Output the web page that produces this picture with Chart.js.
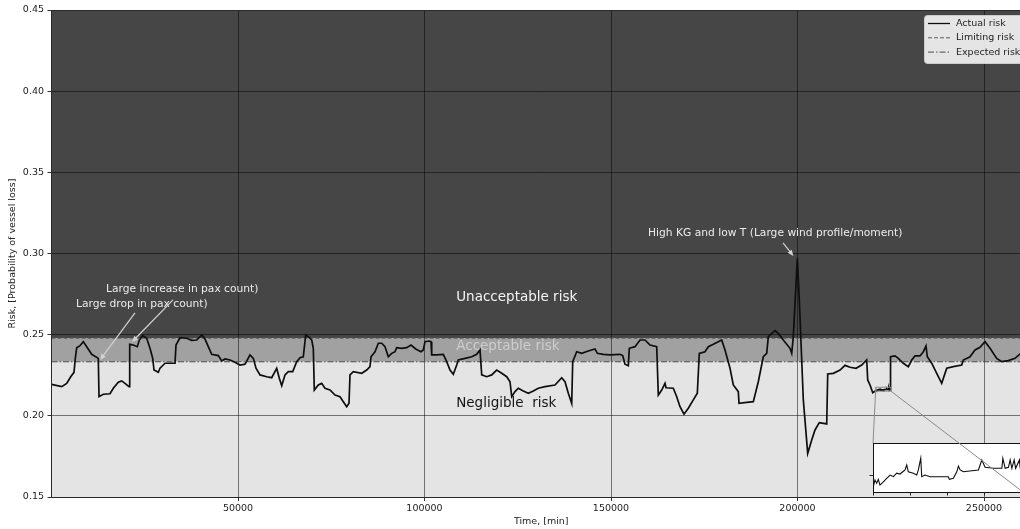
<!DOCTYPE html>
<html>
<head>
<meta charset="utf-8">
<title>Vessel risk over time</title>
<script src="https://cdn.jsdelivr.net/npm/chart.js@4/dist/chart.umd.min.js"></script>
<style>
  html, body { margin: 0; padding: 0; background: #ffffff; overflow: hidden; }
  #wrap { position: relative; width: 1020px; height: 529px; overflow: hidden; }
  #wrap canvas { position: absolute; left: 0; top: 0; }
</style>
</head>
<body>
<div id="wrap">
  <canvas id="mainChart" width="1040" height="529"></canvas>
  <canvas id="zoomChart" width="1040" height="529"></canvas>
</div>
<script>
// ---- data -------------------------------------------------------------
// elapsed time [min]
const timeMin = [
  0, 2735, 4075, 5148, 6032, 6381, 6756, 7641, 8526, 9437,
  10778, 12547, 12735, 13888, 15684, 16569, 17909, 18821, 19705, 20778,
  20965, 21931, 23003, 23539, 24451, 25523, 26408, 27132, 27480, 28633,
  29089, 30429, 33110, 33378, 34451, 36247, 37588, 38928, 40269, 41153,
  42038, 42950, 44719, 45631, 46515, 47856, 49196, 50537, 51877, 53218,
  54103, 54826, 55899, 57695, 59036, 60376, 61073, 61717, 62601, 63486,
  64666, 65738, 66623, 67508, 68151, 68848, 69760, 70189, 70457, 71529,
  72441, 73325, 74666, 76006, 77347, 78232, 79143, 79760, 80028, 80913,
  83165, 84505, 85390, 85658, 86730, 87615, 88527, 89411, 90296, 91208,
  92093, 92548, 93889, 95229, 96382, 97642, 99063, 99680, 100135, 101208,
  101744, 101932, 103272, 105042, 105953, 106838, 107723, 108634, 109063, 110859,
  112656, 113996, 114881, 115337, 116677, 118018, 119358, 120699, 122039, 122924,
  123380, 124264, 125149, 126490, 127830, 129171, 130511, 132308, 134988, 136785,
  137669, 138554, 139466, 139734, 140806, 142147, 143916, 145712, 146329, 147937,
  149734, 152415, 153139, 153755, 154640, 154908, 156436, 157777, 159117, 160458,
  162254, 162683, 163595, 164479, 164747, 166705, 167616, 168501, 169573, 170726,
  172067, 173139, 173675, 175204, 176088, 177429, 178769, 179681, 180565, 181906,
  182791, 184131, 184319, 186383, 188153, 189493, 190834, 191745, 192174, 193086,
  193970, 194855, 196195, 197992, 198448, 198877, 199949, 200485, 201558, 202737,
  203810, 204694, 205847, 207831, 208099, 209601, 211397, 212737, 214078, 215687,
  217215, 218555, 218823, 219440, 220164,
  221008, 221054, 221100, 221143, 221189, 221278, 221370, 221460, 221549, 221641,
  221730, 221865, 221911, 221954, 222089, 222181, 222224, 222289, 222316, 222406,
  222541, 222811, 223035, 223062, 223170, 223262, 223306, 223352, 223441, 223846,
  223892, 223938, 224027, 224252, 224479, 224506, 224568, 224657, 224703, 224749,
  224811, 224852, 224954, 224973,
  224990, 226142, 227027, 228368, 229708, 230620, 231504, 232845, 233730, 234453,
  234802, 235981, 237322, 238663, 240003, 241773, 244025, 244454, 246251, 247591,
  248932, 250272, 251613, 253408, 254749, 256519, 258315, 259655, 262336
];
// probability of vessel loss at each time
const riskActual = [
  0.2194, 0.2180, 0.2200, 0.2241, 0.2268, 0.2354, 0.2420, 0.2432, 0.2457, 0.2426,
  0.2379, 0.2354, 0.2118, 0.2133, 0.2136, 0.2170, 0.2207, 0.2215, 0.2200, 0.2180,
  0.2441, 0.2436, 0.2426, 0.2467, 0.2494, 0.2478, 0.2416, 0.2354, 0.2282, 0.2268,
  0.2293, 0.2324, 0.2324, 0.2436, 0.2481, 0.2478, 0.2465, 0.2467, 0.2498, 0.2473,
  0.2426, 0.2379, 0.2371, 0.2338, 0.2350, 0.2344, 0.2330, 0.2313, 0.2318, 0.2375,
  0.2354, 0.2293, 0.2252, 0.2241, 0.2235, 0.2293, 0.2231, 0.2186, 0.2252, 0.2272,
  0.2272, 0.2334, 0.2358, 0.2364, 0.2498, 0.2488, 0.2467, 0.2416, 0.2159, 0.2190,
  0.2200, 0.2170, 0.2159, 0.2128, 0.2118, 0.2087, 0.2056, 0.2077, 0.2252, 0.2272,
  0.2262, 0.2282, 0.2303, 0.2364, 0.2395, 0.2447, 0.2447, 0.2426, 0.2364, 0.2385,
  0.2395, 0.2420, 0.2416, 0.2420, 0.2436, 0.2412, 0.2395, 0.2406, 0.2457, 0.2461,
  0.2457, 0.2375, 0.2375, 0.2379, 0.2334, 0.2282, 0.2256, 0.2313, 0.2344, 0.2354,
  0.2364, 0.2379, 0.2406, 0.2252, 0.2241, 0.2252, 0.2282, 0.2262, 0.2241, 0.2210,
  0.2118, 0.2149, 0.2170, 0.2153, 0.2139, 0.2153, 0.2170, 0.2180, 0.2190, 0.2235,
  0.2210, 0.2139, 0.2077, 0.2334, 0.2395, 0.2385, 0.2399, 0.2412, 0.2385, 0.2379,
  0.2375, 0.2379, 0.2371, 0.2318, 0.2309, 0.2416, 0.2426, 0.2467, 0.2467, 0.2436,
  0.2426, 0.2128, 0.2159, 0.2200, 0.2173, 0.2170, 0.2118, 0.2056, 0.2010, 0.2047,
  0.2098, 0.2139, 0.2385, 0.2395, 0.2426, 0.2441, 0.2457, 0.2467, 0.2406, 0.2293,
  0.2190, 0.2149, 0.2077, 0.2083, 0.2087, 0.2210, 0.2364, 0.2385, 0.2488, 0.2508,
  0.2525, 0.2508, 0.2467, 0.2416, 0.2385, 0.2488, 0.2970, 0.2714, 0.2098, 0.1769,
  0.1851, 0.1913, 0.1958, 0.1950, 0.2258, 0.2262, 0.2282, 0.2311, 0.2299, 0.2293,
  0.2313, 0.2344, 0.2221, 0.2190, 0.2143,
  0.21546, 0.21579, 0.21563, 0.21582, 0.21554, 0.21570, 0.21587, 0.21603, 0.21595, 0.21612,
  0.21608, 0.21628, 0.21652, 0.21619, 0.21612, 0.21603, 0.21628, 0.21685, 0.21595, 0.21603,
  0.21595, 0.21595, 0.21595, 0.21582, 0.21587, 0.21619, 0.21647, 0.21628, 0.21619, 0.21628,
  0.21652, 0.21677, 0.21641, 0.21636, 0.21636, 0.21685, 0.21636, 0.21641, 0.21677, 0.21636,
  0.21677, 0.21636, 0.21677, 0.21638,
  0.2364, 0.2369, 0.2354, 0.2324, 0.2303, 0.2344, 0.2369, 0.2369, 0.2395, 0.2430,
  0.2364, 0.2324, 0.2262, 0.2200, 0.2293, 0.2303, 0.2313, 0.2344, 0.2364, 0.2406,
  0.2422, 0.2457, 0.2416, 0.2354, 0.2334, 0.2340, 0.2354, 0.2381, 0.2394
];
const limitingRisk = 0.2478;
const expectedRisk = 0.2333;

const timeRange = [0, 262600];
const riskRange = [0.15, 0.45];
const timeTicks = [50000, 100000, 150000, 200000, 250000];
const riskTicks = [0.15, 0.20, 0.25, 0.30, 0.35, 0.40, 0.45];

// detail window shown in the inset
const zoomTimeRange = [221000, 225050];
const zoomRiskRange = [0.2152, 0.2176];
const zoomTimeTicks = [221000, 222000, 223000, 224000];
const zoomRiskTicks = [0.2160];

const seriesLabels = ['Actual risk', 'Limiting risk', 'Expected risk'];
const zoneLabels = ['Unacceptable risk', 'Acceptable risk', 'Negligible  risk'];
const noteLabels = [
  'Large drop in pax count)',
  'Large increase in pax count)',
  'High KG and low T (Large wind profile/moment)'
];

// ---- layout / style ---------------------------------------------------
const FONT = "'DejaVu Sans', 'Liberation Sans', sans-serif";
const CANVAS_W = 1040;
const PLOT = { left: 51.5, top: 10, right: 1031, bottom: 497 };
const INSET = { left: 873, top: 443, right: 1023, bottom: 492 };

Chart.defaults.font.family = FONT;
Chart.defaults.font.size = 9.5;
Chart.defaults.color = '#222222';

// zone captions anchored in data coordinates
const zoneNotes = [
  { text: zoneLabels[0], t: 108500, v: 0.2726, color: '#f4f4f4', size: 13.5 },
  { text: zoneLabels[1], t: 108500, v: 0.2426, color: '#cdcdcd', size: 13.5 },
  { text: zoneLabels[2], t: 108500, v: 0.2079, color: '#141414', size: 13.5 }
];
// arrow annotations: text anchor, arrow tail and arrow head
const arrowNotes = [
  { text: noteLabels[0], t: 6568,   v: 0.2689, from: [22386, 0.2634],  to: [13003, 0.2344] },
  { text: noteLabels[1], t: 14611,  v: 0.2781, from: [32574, 0.2714],  to: [21582, 0.2455] },
  { text: noteLabels[2], t: 159924, v: 0.3125, from: [196114, 0.3065], to: [198900, 0.2985] }
];

function fixedTicks(values) {
  return function (scale) { scale.ticks = values.map(v => ({ value: v })); };
}

const series = timeMin.map((t, i) => ({ x: t, y: riskActual[i] }));

// risk zone shading behind the grid
const zonesPlugin = {
  id: 'zones',
  beforeDraw(chart) {
    const { ctx, chartArea: a, scales: { y } } = chart;
    const yl = y.getPixelForValue(limitingRisk);
    const ye = y.getPixelForValue(expectedRisk);
    ctx.save();
    ctx.fillStyle = '#464646';
    ctx.fillRect(a.left, a.top, a.right - a.left, yl - a.top);
    ctx.fillStyle = '#a1a1a1';
    ctx.fillRect(a.left, yl, a.right - a.left, ye - yl);
    ctx.fillStyle = '#e4e4e4';
    ctx.fillRect(a.left, ye, a.right - a.left, a.bottom - ye);
    ctx.restore();
  }
};

function drawArrow(ctx, x1, y1, x2, y2, color) {
  const ang = Math.atan2(y2 - y1, x2 - x1);
  const hl = 6, hw = 2.6;
  ctx.save();
  ctx.strokeStyle = color;
  ctx.fillStyle = color;
  ctx.lineWidth = 1.2;
  ctx.beginPath();
  ctx.moveTo(x1, y1);
  ctx.lineTo(x2 - Math.cos(ang) * hl * 0.8, y2 - Math.sin(ang) * hl * 0.8);
  ctx.stroke();
  ctx.beginPath();
  ctx.moveTo(x2, y2);
  ctx.lineTo(x2 - Math.cos(ang) * hl - Math.sin(ang) * hw, y2 - Math.sin(ang) * hl + Math.cos(ang) * hw);
  ctx.lineTo(x2 - Math.cos(ang) * hl + Math.sin(ang) * hw, y2 - Math.sin(ang) * hl - Math.cos(ang) * hw);
  ctx.closePath();
  ctx.fill();
  ctx.restore();
}

// frame, captions, arrows and legend on top of the data
const notesPlugin = {
  id: 'notes',
  afterDatasetsDraw(chart) {
    const { ctx, chartArea: a, scales: { x, y } } = chart;
    ctx.save();
    ctx.strokeStyle = '#2a2a2a';
    ctx.lineWidth = 1;
    ctx.strokeRect(a.left, a.top + 0.5, a.right - a.left, a.bottom - a.top);
    ctx.textBaseline = 'middle';
    ctx.textAlign = 'left';
    zoneNotes.forEach(n => {
      ctx.font = n.size + 'px ' + FONT;
      ctx.fillStyle = n.color;
      ctx.fillText(n.text, x.getPixelForValue(n.t), y.getPixelForValue(n.v));
    });
    ctx.font = '10.7px ' + FONT;
    arrowNotes.forEach(n => {
      ctx.fillStyle = '#ececec';
      ctx.fillText(n.text, x.getPixelForValue(n.t), y.getPixelForValue(n.v));
      drawArrow(ctx,
        x.getPixelForValue(n.from[0]), y.getPixelForValue(n.from[1]),
        x.getPixelForValue(n.to[0]), y.getPixelForValue(n.to[1]), '#d2d2d2');
    });
    ctx.restore();
  },
  afterDraw(chart) {
    const { ctx, chartArea: a } = chart;
    const x0 = a.right - 107, y0 = a.top + 5, w = 102, h = 48;
    ctx.save();
    ctx.beginPath();
    ctx.roundRect(x0 + 0.5, y0 + 0.5, w, h, 3);
    ctx.fillStyle = 'rgba(255,255,255,0.86)';
    ctx.fill();
    ctx.strokeStyle = '#cccccc';
    ctx.lineWidth = 1;
    ctx.stroke();
    ctx.font = '9.5px ' + FONT;
    ctx.textBaseline = 'middle';
    ctx.textAlign = 'left';
    chart.data.datasets.forEach((ds, i) => {
      const yy = y0 + 8.5 + i * 14.3;
      ctx.strokeStyle = ds.borderColor;
      ctx.lineWidth = Math.min(ds.borderWidth, 1.3);
      ctx.setLineDash(ds.borderDash || []);
      ctx.beginPath();
      ctx.moveTo(x0 + 4, yy);
      ctx.lineTo(x0 + 26, yy);
      ctx.stroke();
      ctx.setLineDash([]);
      ctx.fillStyle = '#1e1e1e';
      ctx.fillText(ds.label, x0 + 32, yy);
    });
    ctx.restore();
  }
};

const mainChart = new Chart(document.getElementById('mainChart'), {
  type: 'line',
  data: {
    datasets: [
      { label: seriesLabels[0], data: series, borderColor: '#0e0e0e', borderWidth: 1.7,
        pointRadius: 0, tension: 0, order: 0 },
      { label: seriesLabels[1], data: timeRange.map(t => ({ x: t, y: limitingRisk })),
        borderColor: '#5c5c5c', borderWidth: 1, borderDash: [4, 2], pointRadius: 0, order: 1 },
      { label: seriesLabels[2], data: timeRange.map(t => ({ x: t, y: expectedRisk })),
        borderColor: '#4a4a4a', borderWidth: 1, borderDash: [6, 2, 1.5, 2], pointRadius: 0, order: 1 }
    ]
  },
  options: {
    responsive: false,
    animation: false,
    devicePixelRatio: 1,
    layout: { padding: { left: 0, top: PLOT.top, right: CANVAS_W - PLOT.right, bottom: 0 } },
    plugins: { legend: { display: false }, tooltip: { enabled: false } },
    scales: {
      x: {
        type: 'linear', min: timeRange[0], max: timeRange[1],
        afterBuildTicks: fixedTicks(timeTicks),
        afterFit(s) { s.height = 529 - PLOT.bottom; },
        grid: { color: 'rgba(0,0,0,0.5)', lineWidth: 1, drawTicks: true, tickLength: 4, tickColor: '#333333' },
        border: { display: false },
        ticks: { padding: 1.5, maxRotation: 0, autoSkip: false, color: '#222222',
                 callback: v => String(v) },
        title: { display: true, text: 'Time, [min]', color: '#222222', padding: { top: 0, bottom: 1.6 } }
      },
      y: {
        type: 'linear', min: riskRange[0], max: riskRange[1],
        afterBuildTicks: fixedTicks(riskTicks),
        afterFit(s) { s.width = PLOT.left; },
        grid: { color: 'rgba(0,0,0,0.5)', lineWidth: 1, drawTicks: true, tickLength: 4, tickColor: '#333333' },
        border: { display: false },
        ticks: { padding: 3.5, color: '#222222', callback: v => v.toFixed(2) },
        title: { display: true, text: 'Risk, [Probability of vessel loss]', color: '#222222',
                 padding: { top: 7.3, bottom: 0 } }
      }
    }
  },
  plugins: [zonesPlugin, notesPlugin]
});

// inset: white panel, frame, marker rectangle and connector lines
const insetPlugin = {
  id: 'insetFrame',
  beforeDraw(chart) {
    const { ctx, chartArea: a } = chart;
    ctx.save();
    ctx.fillStyle = '#ffffff';
    ctx.fillRect(a.left, a.top, a.right - a.left, a.bottom - a.top);
    ctx.restore();
  },
  afterDraw(chart) {
    const { ctx, chartArea: a } = chart;
    const mx = mainChart.scales.x, my = mainChart.scales.y;
    const rx1 = mx.getPixelForValue(zoomTimeRange[0]), rx2 = mx.getPixelForValue(zoomTimeRange[1]);
    const ry1 = my.getPixelForValue(zoomRiskRange[1]), ry2 = my.getPixelForValue(zoomRiskRange[0]);
    ctx.save();
    ctx.strokeStyle = '#111111';
    ctx.lineWidth = 1;
    ctx.strokeRect(a.left + 0.5, a.top + 0.5, a.right - a.left, a.bottom - a.top);
    ctx.strokeStyle = '#8a8a8a';
    ctx.strokeRect(rx1, ry1, rx2 - rx1, ry2 - ry1);
    ctx.beginPath();
    ctx.moveTo(rx1, ry1); ctx.lineTo(a.left, a.top);
    ctx.moveTo(rx2, ry2); ctx.lineTo(a.right, a.bottom);
    ctx.stroke();
    ctx.restore();
  }
};

new Chart(document.getElementById('zoomChart'), {
  type: 'line',
  data: {
    datasets: [
      { label: seriesLabels[0], data: series, borderColor: '#0e0e0e', borderWidth: 1.1,
        pointRadius: 0, tension: 0 }
    ]
  },
  options: {
    responsive: false,
    animation: false,
    devicePixelRatio: 1,
    layout: { padding: { left: INSET.left - 4, top: INSET.top, right: CANVAS_W - INSET.right, bottom: 529 - INSET.bottom - 4 } },
    plugins: { legend: { display: false }, tooltip: { enabled: false } },
    scales: {
      x: {
        type: 'linear', min: zoomTimeRange[0], max: zoomTimeRange[1],
        afterBuildTicks: fixedTicks(zoomTimeTicks),
        afterFit(s) { s.height = 4; },
        ticks: { display: false },
        grid: { drawOnChartArea: false, drawTicks: true, tickLength: 3.5, tickColor: '#222222' },
        border: { display: false }
      },
      y: {
        type: 'linear', min: zoomRiskRange[0], max: zoomRiskRange[1],
        afterBuildTicks: fixedTicks(zoomRiskTicks),
        afterFit(s) { s.width = 4; },
        ticks: { display: false },
        grid: { drawOnChartArea: false, drawTicks: true, tickLength: 3.5, tickColor: '#222222' },
        border: { display: false }
      }
    }
  },
  plugins: [insetPlugin]
});
</script>
</body>
</html>
